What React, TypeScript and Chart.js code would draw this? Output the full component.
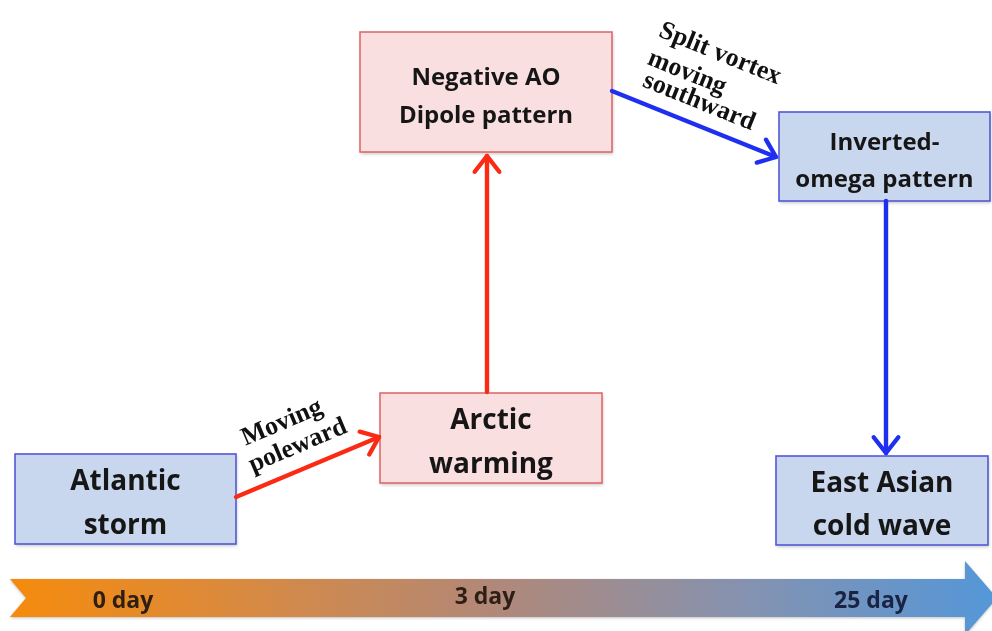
import React, { useEffect, useRef } from "react";
import { Chart, registerables } from "chart.js";

Chart.register(...registerables);

// Diagram content (data space: x 0..992, y 0..631, y downward)
const nodeLines: string[][] = [
  ["Atlantic", "storm"],
  ["Arctic", "warming"],
  ["Negative AO", "Dipole pattern"],
  ["Inverted-", "omega pattern"],
  ["East Asian", "cold wave"],
];
const nodeLeft = [15, 380, 360, 779, 776];
const nodeRight = [236, 602, 612, 990, 988];
const nodeTop = [454, 393, 32, 112, 456];
const nodeBottom = [544, 483, 152, 201, 545];
const nodeKind = ["blue", "red", "red", "blue", "blue"];
const nodeFontSize = [28, 28, 24, 24, 28];

const arrowFromX = [236, 487, 612, 886];
const arrowFromY = [497, 392, 91, 201];
const arrowToX = [379, 487, 776, 886];
const arrowToY = [437, 156, 157, 453];
const arrowKind = ["red", "red", "blue", "blue"];

const labelLines: string[][] = [
  ["Moving", "poleward"],
  ["Split vortex", "moving", "southward"],
];
const labelX: number[][] = [
  [282, 298],
  [720, 687, 699],
];
const labelY: number[][] = [
  [423, 446],
  [54, 73, 102],
];
const labelAngle = [-23, 22];

const timeLabels = ["0 day", "3 day", "25 day"];
const timeX = [123, 485, 871];
const timeY = [601, 597, 601];

const COLORS: Record<string, { fill: string; stroke: string; arrow: string }> = {
  blue: { fill: "#c8d7ee", stroke: "#5458d6", arrow: "#1f2ff0" },
  red: { fill: "#f9dfdf", stroke: "#e06a6a", arrow: "#fa2a14" },
};

const diagramPlugin = {
  id: "diagram",
  beforeDatasetsDraw(chart: any) {
    const { ctx, scales } = chart;
    const X = (v: number) => scales.x.getPixelForValue(v);
    const Y = (v: number) => scales.y.getPixelForValue(v);
    ctx.save();
    // timeline arrow
    const g = ctx.createLinearGradient(X(10), 0, X(992), 0);
    g.addColorStop(0, "#f58b0c");
    g.addColorStop(0.2, "#de8a38");
    g.addColorStop(0.48, "#b38876");
    g.addColorStop(0.75, "#8492b0");
    g.addColorStop(1, "#5597d8");
    ctx.beginPath();
    ctx.moveTo(X(10), Y(579));
    ctx.lineTo(X(965), Y(579));
    ctx.lineTo(X(965), Y(561));
    ctx.lineTo(X(997), Y(598));
    ctx.lineTo(X(965), Y(635));
    ctx.lineTo(X(965), Y(617));
    ctx.lineTo(X(10), Y(617));
    ctx.lineTo(X(26), Y(598));
    ctx.closePath();
    ctx.fillStyle = g;
    ctx.shadowColor = "rgba(0,0,0,0.25)";
    ctx.shadowBlur = 3;
    ctx.shadowOffsetY = 1;
    ctx.fill();
    ctx.shadowColor = "transparent";
    ctx.font = "bold 23px 'Open Sans'";
    ctx.textAlign = "center";
    ctx.textBaseline = "middle";
    timeLabels.forEach((t, i) => {
      ctx.fillStyle = i === 2 ? "#1b2342" : "#2e1f14";
      ctx.fillText(t, X(timeX[i]), Y(timeY[i]));
    });

    // boxes
    nodeLines.forEach((lines, i) => {
      const c = COLORS[nodeKind[i]];
      const l = X(nodeLeft[i]);
      const r = X(nodeRight[i]);
      const t = Y(nodeTop[i]);
      const b = Y(nodeBottom[i]);
      ctx.shadowColor = "rgba(0,0,0,0.22)";
      ctx.shadowBlur = 3;
      ctx.shadowOffsetX = 1;
      ctx.shadowOffsetY = 2;
      ctx.fillStyle = c.fill;
      ctx.fillRect(l, t, r - l, b - t);
      ctx.shadowColor = "transparent";
      ctx.lineWidth = 1.6;
      ctx.strokeStyle = c.stroke;
      ctx.strokeRect(l, t, r - l, b - t);
      const fs = nodeFontSize[i];
      ctx.font = `bold ${fs}px 'Open Sans'`;
      ctx.fillStyle = "#161616";
      const cx = (l + r) / 2;
      const cy = (t + b) / 2 + 5;
      const gap = fs * 1.56;
      lines.forEach((s, k) => {
        ctx.fillText(s, cx, cy + (k - (lines.length - 1) / 2) * gap);
      });
    });
    ctx.restore();
  },
  afterDatasetsDraw(chart: any) {
    const { ctx, scales } = chart;
    const X = (v: number) => scales.x.getPixelForValue(v);
    const Y = (v: number) => scales.y.getPixelForValue(v);
    ctx.save();
    // arrow heads
    arrowToX.forEach((_, i) => {
      const x1 = X(arrowFromX[i]);
      const y1 = Y(arrowFromY[i]);
      const x2 = X(arrowToX[i]);
      const y2 = Y(arrowToY[i]);
      const ang = Math.atan2(y2 - y1, x2 - x1);
      const len = 20;
      const spread = (38 * Math.PI) / 180;
      ctx.strokeStyle = COLORS[arrowKind[i]].arrow;
      ctx.lineWidth = 4.4;
      ctx.lineCap = "round";
      ctx.lineJoin = "round";
      ctx.beginPath();
      ctx.moveTo(x2 - len * Math.cos(ang - spread), y2 - len * Math.sin(ang - spread));
      ctx.lineTo(x2, y2);
      ctx.lineTo(x2 - len * Math.cos(ang + spread), y2 - len * Math.sin(ang + spread));
      ctx.stroke();
    });
    // rotated labels
    ctx.fillStyle = "#111";
    ctx.font = "bold 26px 'Liberation Serif'";
    ctx.textAlign = "center";
    ctx.textBaseline = "middle";
    labelLines.forEach((lines, i) => {
      lines.forEach((s, k) => {
        ctx.save();
        ctx.translate(X(labelX[i][k]), Y(labelY[i][k]));
        ctx.rotate((labelAngle[i] * Math.PI) / 180);
        ctx.fillText(s, 0, 0);
        ctx.restore();
      });
    });
    ctx.restore();
  },
};

export default function App() {
  const ref = useRef<HTMLCanvasElement | null>(null);
  useEffect(() => {
    document.body.style.margin = "0";
    const canvas = ref.current;
    if (!canvas) return;
    const datasets: any[] = [
      {
        label: "nodes",
        data: nodeLines.map((_, i) => ({
          x: (nodeLeft[i] + nodeRight[i]) / 2,
          y: (nodeTop[i] + nodeBottom[i]) / 2,
        })),
        pointRadius: 0,
        showLine: false,
      },
      ...arrowToX.map((_, i) => ({
        label: "arrow" + i,
        data: [
          { x: arrowFromX[i], y: arrowFromY[i] },
          { x: arrowToX[i], y: arrowToY[i] },
        ],
        showLine: true,
        borderColor: COLORS[arrowKind[i]].arrow,
        borderWidth: 4.4,
        borderCapStyle: "round",
        pointRadius: 0,
        fill: false,
      })),
    ];
    const chart = new Chart(canvas, {
      type: "scatter",
      data: { datasets },
      options: {
        animation: false,
        responsive: false,
        maintainAspectRatio: false,
        layout: { padding: 0 },
        plugins: { legend: { display: false }, tooltip: { enabled: false }, title: { display: false } },
        events: [],
        scales: {
          x: { type: "linear", min: 0, max: 992, display: false },
          y: { type: "linear", min: 0, max: 631, reverse: true, display: false },
        },
      },
      plugins: [diagramPlugin],
    } as any);
    return () => chart.destroy();
  }, []);
  return (
    <div style={{ position: "absolute", left: 0, top: 0, width: 992, height: 631, background: "#fff" }}>
      <canvas ref={ref} width={992} height={631} style={{ display: "block" }} />
    </div>
  );
}
